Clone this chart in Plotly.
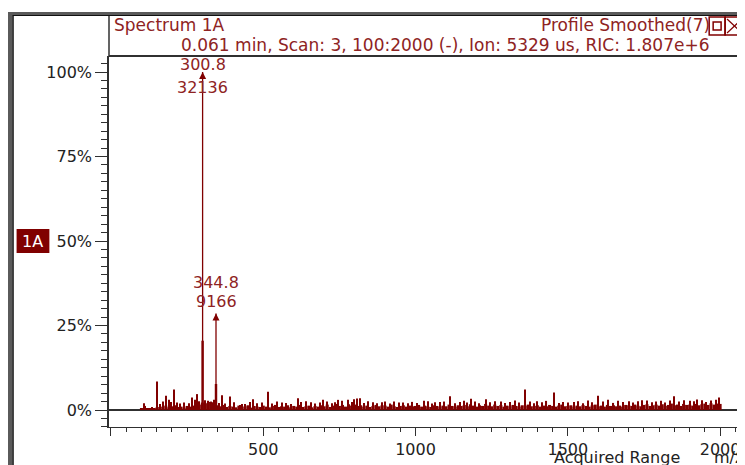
import plotly.graph_objects as go

# ---------------- data ----------------
# smoothed profile (noise floor), m/z 100..2000 every 10, % of base peak
profile_mz = list(range(100, 2001, 10))
profile_pct = [
    0.4, 1.2, 0.3, 0.5, 0.3, 0.7, 0.9, 1.0, 1.3, 0.8,
    1.1, 1.4, 0.9, 1.0, 0.7, 1.2, 1.0, 1.3, 1.5, 1.6,
    2.2, 2.0, 2.4, 2.3, 2.6, 1.4, 1.1, 1.5, 0.9, 1.2,
    1.0, 0.8, 1.3, 0.9, 1.1, 1.4, 0.7, 1.2, 1.0, 0.9,
    1.3, 1.0, 0.8, 1.2, 1.5, 0.9, 1.1, 1.0, 1.4, 0.8,
    1.2, 1.0, 1.5, 0.9, 1.1, 1.3, 0.8, 1.2, 1.0, 1.4,
    1.1, 1.6, 0.9, 1.3, 1.8, 1.2, 1.5, 1.0, 1.7, 1.3,
    1.6, 1.2, 1.4, 1.0, 1.3, 0.9, 1.2, 1.5, 1.1, 1.4,
    1.3, 1.0, 1.6, 1.1, 0.9, 1.2, 1.4, 1.0, 1.3, 1.1,
    1.2, 1.5, 1.0, 1.3, 1.1, 0.9, 1.4, 1.2, 1.0, 1.3,
    1.1, 1.6, 1.2, 1.0, 1.4, 1.2, 1.5, 1.1, 1.7, 1.3,
    1.0, 1.4, 1.2, 1.8, 1.3, 1.1, 1.6, 1.2, 1.5, 1.0,
    1.3, 1.1, 1.5, 1.2, 1.0, 1.4, 1.3, 1.6, 1.1, 1.2,
    1.4, 1.0, 1.3, 1.1, 1.5, 1.2, 1.0, 1.3, 1.6, 1.1,
    1.2, 1.4, 1.0, 1.3, 1.1, 1.5, 1.2, 1.0, 1.4, 1.6,
    1.1, 1.3, 1.0, 1.5, 1.2, 1.4, 1.1, 1.3, 1.0, 1.5,
    1.4, 1.2, 1.6, 1.3, 1.1, 1.5, 1.7, 1.2, 1.4, 1.6,
    1.3, 1.7, 1.2, 1.5, 1.9, 1.4, 1.6, 1.2, 1.8, 1.5,
    1.6, 1.3, 1.8, 1.4, 1.7, 1.9, 1.5, 2.0, 1.6, 1.9,
    1.8,
]

# prominent spikes (m/z, % of base peak)
spike_mz = [107, 150, 170, 180, 190, 206, 218, 255, 265, 275, 284, 300.8, 338,
            344.8, 363, 392, 423, 441, 466, 517, 560, 613, 657, 695, 747, 777,
            798, 809, 817, 860, 900, 960, 1027, 1080, 1114, 1183, 1231, 1280,
            1359, 1400, 1455, 1520, 1599, 1632, 1700, 1760, 1850, 1900, 1940, 1995]
spike_pct = [2.0, 8.4, 2.5, 4.2, 3.0, 6.1, 2.2, 2.0, 3.7, 3.0, 4.7, 20.5, 3.0,
             7.7, 4.4, 4.0, 1.5, 1.8, 3.2, 5.4, 2.2, 3.5, 2.3, 3.0, 3.0, 3.0,
             3.2, 3.4, 3.5, 2.3, 2.5, 2.2, 2.7, 2.4, 4.1, 3.3, 3.2, 2.5,
             6.1, 2.6, 5.2, 2.4, 4.2, 3.0, 2.6, 2.8, 4.1, 2.7, 2.9, 3.7]

# smaller noise spikes (m/z, % of base peak)
noise_mz = [125, 135, 160, 198, 228, 240, 290, 310, 320, 330, 355, 375, 405, 430,
            455, 480, 495, 530, 545, 575, 590, 625, 640, 670, 685, 710, 725, 735,
            760, 790, 830, 845, 875, 890, 915, 930, 945, 975, 990, 1005, 1040, 1055,
            1065, 1095, 1130, 1145, 1160, 1170, 1195, 1210, 1245, 1260, 1295, 1310,
            1325, 1340, 1375, 1390, 1415, 1430, 1470, 1485, 1500, 1535, 1550, 1565,
            1580, 1615, 1650, 1665, 1680, 1715, 1730, 1745, 1775, 1790, 1805, 1820,
            1835, 1865, 1880, 1915, 1925, 1955, 1970, 1985]
noise_pct = [0.6, 0.9, 1.8, 2.4, 1.9, 2.2, 2.6, 2.9, 2.7, 2.5, 2.1, 1.9, 2.3, 1.8,
             2.4, 2.0, 2.2, 1.9, 2.5, 2.1, 1.8, 2.4, 2.6, 1.9, 2.2, 2.5, 2.0, 2.3,
             2.7, 2.4, 2.1, 2.6, 2.0, 2.3, 1.9, 2.5, 2.2, 2.0, 2.4, 2.1, 2.6, 1.9,
             2.3, 2.5, 2.0, 2.4, 2.7, 2.2, 2.5, 2.0, 2.3, 2.6, 2.1, 2.4, 2.8, 2.2,
             2.5, 2.0, 2.3, 2.7, 2.1, 2.4, 2.2, 2.6, 2.0, 2.8, 2.3, 2.5, 2.1, 2.7,
             2.4, 2.2, 2.6, 2.9, 2.3, 2.5, 2.7, 2.2, 2.8, 2.5, 2.9, 2.6, 3.1, 2.4,
             2.8, 3.0]

# labelled centroid peaks
peak_mz = [300.8, 344.8]
peak_intensity = [32136, 9166]

y_ticks = [0, 25, 50, 75, 100]
y_ticktext = ["0%", "25%", "50%", "75%", "100%"]
x_ticks = [0, 500, 1000, 1500, 2000]
x_ticktext = ["", "500", "1000", "1500", "2000"]

# ---------------- style ----------------
OFF = 8                      # page body margin
SW, SH = 745, 465            # screen size
W, H = SW - OFF, SH - OFF    # figure size
PL, PR, PT, PB = 109, 741, 56, 427   # plot area in screen pixels
L, R, T, B = PL - OFF, W - (PR - OFF), PT - OFF, H - (PB - OFF)
RED = "#800000"
TXT = "#8e2323"
AX = "#303030"
FONT = "DejaVu Sans"


def px_x(p):
    return (p - OFF - L) / (W - L - R)


def px_y(p):
    return (H - B - (p - OFF)) / (H - T - B)


base = max(peak_intensity)
peak_pct = [v / base * 100 for v in peak_intensity]

fig = go.Figure()
fig.add_trace(go.Bar(x=profile_mz, y=profile_pct, width=10, marker_color=RED,
                     marker_line_width=0, showlegend=False, hoverinfo="skip"))
fig.add_trace(go.Bar(x=noise_mz, y=noise_pct, width=3.5, marker_color=RED,
                     marker_line_width=0, showlegend=False, hoverinfo="skip"))
fig.add_trace(go.Bar(x=spike_mz, y=spike_pct,
                     width=[8 if m in peak_mz else 3.5 for m in spike_mz],
                     marker_color=RED, marker_line_width=0, showlegend=False,
                     hoverinfo="skip"))

# centroid sticks
sx, sy = [], []
for m, p in zip(peak_mz, peak_pct):
    sx += [m, m, None]
    sy += [0, p, None]
fig.add_trace(go.Scatter(x=sx, y=sy, mode="lines", line=dict(color=RED, width=1.3),
                         showlegend=False, hoverinfo="skip"))
fig.add_trace(go.Scatter(x=peak_mz, y=peak_pct, mode="markers",
                         marker=dict(symbol="arrow-up", size=7, color=RED),
                         showlegend=False, hoverinfo="skip"))
# dummy trace for right-hand mirror axis
fig.add_trace(go.Scatter(x=[None], y=[None], yaxis="y2", showlegend=False, hoverinfo="skip"))

# peak labels
offsets = [(8, -15), (31, 12)]
for m, p, v, (o1, o2) in zip(peak_mz, peak_pct, peak_intensity, offsets):
    fig.add_annotation(x=m, y=p, text=f"{m:.1f}", showarrow=False, yshift=o1,
                       font=dict(family=FONT, size=16, color=TXT))
    fig.add_annotation(x=m, y=p, text=f"{v}", showarrow=False, yshift=o2,
                       font=dict(family=FONT, size=16, color=TXT))

PX_PER_PCT = 3.38
ymin = -(PB - 410) / PX_PER_PCT
ymax = (410 - PT) / PX_PER_PCT
PX_PER_MZ = (724 - 111) / 2000
xmin = -(111 - PL) / PX_PER_MZ
xmax = (PR - 111) / PX_PER_MZ

fig.update_layout(
    width=W, height=H, margin=dict(l=L, r=R, t=T, b=B),
    paper_bgcolor="white", plot_bgcolor="white", barmode="overlay",
    font=dict(family=FONT, size=16, color="#222"),
    xaxis=dict(range=[xmin, xmax], tickvals=x_ticks, ticktext=x_ticktext,
               ticks="outside", ticklen=8, tickcolor=AX, tickwidth=1,
               minor=dict(dtick=50, tick0=0, ticks="outside", ticklen=4, tickcolor=AX),
               showline=True, linecolor=AX, linewidth=1, showgrid=False, zeroline=False,
               tickfont=dict(family=FONT, size=16, color="#222")),
    yaxis=dict(range=[ymin, ymax], tickvals=y_ticks, ticktext=y_ticktext,
               ticks="outside", ticklen=12, tickcolor=AX, tickwidth=1,
               minor=dict(dtick=2.5, tick0=0, ticks="outside", ticklen=6, tickcolor=AX),
               showline=True, linecolor=AX, linewidth=1.5, showgrid=False,
               zeroline=True, zerolinecolor=AX, zerolinewidth=1.5,
               tickfont=dict(family=FONT, size=16, color="#222")),
    yaxis2=dict(overlaying="y", side="right", range=[ymin, ymax],
                tickvals=y_ticks, ticks="outside", ticklen=4, tickcolor=AX,
                showticklabels=False, showline=False, showgrid=False, zeroline=False),
)

shapes = []
# outer window frame
shapes.append(dict(type="rect", xref="paper", yref="paper", x0=px_x(7), x1=px_x(746),
                   y0=px_y(16), y1=px_y(12), fillcolor="#5a5a5a", line_width=0))
shapes.append(dict(type="rect", xref="paper", yref="paper", x0=px_x(7), x1=px_x(13),
                   y0=px_y(466), y1=px_y(12), fillcolor="#5a5a5a", line_width=0))
shapes.append(dict(type="line", xref="paper", yref="paper", x0=px_x(12), x1=px_x(746),
                   y0=px_y(15.5), y1=px_y(15.5), line=dict(color="#111", width=1)))
shapes.append(dict(type="line", xref="paper", yref="paper", x0=px_x(12.5), x1=px_x(12.5),
                   y0=px_y(466), y1=px_y(15.5), line=dict(color="#111", width=1)))
# header box
shapes.append(dict(type="line", xref="paper", yref="paper", x0=px_x(109), x1=px_x(109),
                   y0=px_y(56), y1=px_y(16), line=dict(color=AX, width=1.5)))
shapes.append(dict(type="line", xref="paper", yref="paper", x0=px_x(109), x1=px_x(746),
                   y0=px_y(56), y1=px_y(56), line=dict(color=AX, width=2)))
# header icons
shapes.append(dict(type="rect", xref="paper", yref="paper", x0=px_x(713), x1=px_x(729),
                   y0=px_y(35), y1=px_y(17), line=dict(color=RED, width=1.5)))
shapes.append(dict(type="rect", xref="paper", yref="paper", x0=px_x(717), x1=px_x(725),
                   y0=px_y(30), y1=px_y(22), line=dict(color=RED, width=1.5)))
shapes.append(dict(type="rect", xref="paper", yref="paper", x0=px_x(729), x1=px_x(748),
                   y0=px_y(35), y1=px_y(17), line=dict(color=RED, width=1.5)))
shapes.append(dict(type="line", xref="paper", yref="paper", x0=px_x(731), x1=px_x(746),
                   y0=px_y(33), y1=px_y(19), line=dict(color=RED, width=1.2)))
shapes.append(dict(type="line", xref="paper", yref="paper", x0=px_x(731), x1=px_x(746),
                   y0=px_y(19), y1=px_y(33), line=dict(color=RED, width=1.2)))
# 1A badge
shapes.append(dict(type="rect", xref="paper", yref="paper", x0=px_x(16), x1=px_x(49),
                   y0=px_y(253), y1=px_y(229), fillcolor=RED, line_width=0))
fig.update_layout(shapes=shapes)


def note(text, x, y, xanchor="left", color=TXT, size=17):
    fig.add_annotation(xref="paper", yref="paper", x=px_x(x), y=px_y(y), text=text,
                       showarrow=False, xanchor=xanchor, yanchor="middle",
                       font=dict(family=FONT, size=size, color=color))


note("Spectrum 1A", 112, 25)
note("Profile Smoothed(7)", 716, 25, xanchor="right")
note("0.061 min, Scan: 3, 100:2000 (-), Ion: 5329 us, RIC: 1.807e+6", 716, 45, xanchor="right")
note("1A", 32.5, 241, xanchor="center", color="white", size=16)
note("Acquired Range", 620, 457, xanchor="center", color="#222", size=16)
note("m/z", 716, 457, color="#222", size=16)

fig.write_html("out.html")
